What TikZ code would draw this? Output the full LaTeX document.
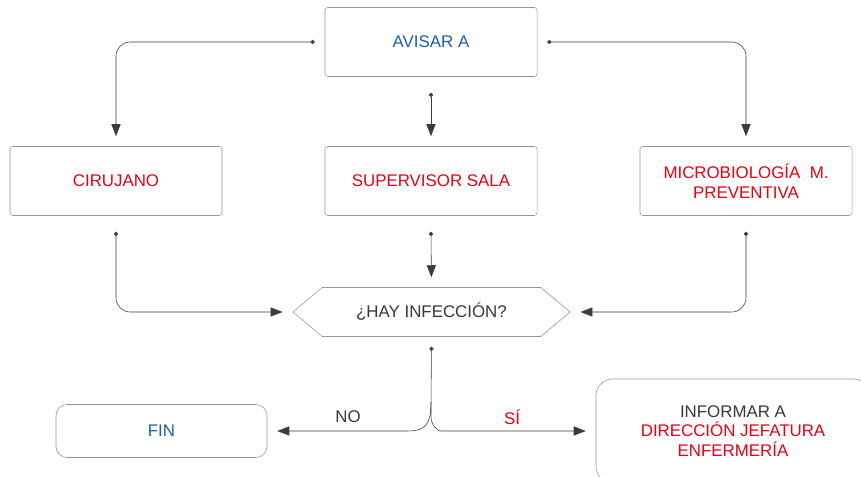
\documentclass[tikz,border=0pt]{standalone}
\usepackage{fontspec}
\setmainfont{Liberation Sans}
\usetikzlibrary{arrows.meta,positioning,shapes.symbols}

\definecolor{boxgray}{RGB}{150,150,150}
\definecolor{linegray}{RGB}{60,60,60}
\definecolor{txtblue}{RGB}{30,96,168}
\definecolor{txtred}{RGB}{232,0,18}
\definecolor{txtgray}{RGB}{55,55,55}

\tikzset{
  box/.style={draw=boxgray, rounded corners=2pt, minimum width=5.3cm, minimum height=1.725cm,
    align=center, text=txtred, font=\fontsize{12}{14}\selectfont},
  endbox/.style={box, rounded corners=8pt},
  hexa/.style={draw=boxgray, signal, signal to=west and east, signal pointer angle=80,
    minimum width=6.925cm, minimum height=1.225cm, text=txtgray, font=\fontsize{12}{14}\selectfont},
  link/.style={draw=linegray, rounded corners=10pt, shorten >=0.25cm,
    {Circle[length=3pt]}-{Triangle[length=8.5pt,width=6.5pt]}},
  label/.style={font=\fontsize{12}{14}\selectfont},
}

\begin{document}
\begin{tikzpicture}[x=0.025cm, y=-0.025cm]
\clip (0,0) rectangle (861,477);

% boxes
\node[box, text=txtblue] (avisar) at (431,42) {AVISAR A};
\node[box] (cirujano) at (116,181) {CIRUJANO};
\node[box] (supervisor) at (431,181) {SUPERVISOR SALA};
\node[box] (micro) at (746,181) {MICROBIOLOG\'IA~~M.\\PREVENTIVA};
\node[hexa] (hay) at (431.5,312) {¿HAY INFECCIÓN?};
\node[endbox, text=txtblue, minimum width=5.275cm, minimum height=1.325cm] (fin) at (161.5,431) {FIN};
\node[endbox, rounded corners=12pt, text=txtgray, minimum width=6.85cm, minimum height=2.6cm]
  (informar) at (733,431) {INFORMAR A\\\textcolor{txtred}{DIRECCIÓN JEFATURA}\\\textcolor{txtred}{ENFERMERÍA}};

\coordinate (fork) at (431,402);

% connectors
\draw[link] ([xshift=-0.25cm]avisar.west) -| (cirujano.north);
\draw[link] ([yshift=-0.4cm]avisar.south) -- (supervisor.north);
\draw[link] ([xshift=0.25cm]avisar.east) -| (micro.north);

\draw[link] ([yshift=-0.4cm]cirujano.south) |- (hay.west);
\draw[link] ([yshift=-0.4cm]supervisor.south) -- (hay.north);
\draw[link] ([yshift=-0.4cm]micro.south) |- (hay.east);

\draw[link] ([yshift=-0.25cm]hay.south) -- (fork) .. controls (431,425) and (437,431) .. (455,431) -- (informar.west);
\draw[draw=linegray, shorten >=0.25cm, -{Triangle[length=8.5pt,width=6.5pt]}]
  (fork) .. controls (431,425) and (425,431) .. (407,431) -- (fin.east);

\node[label, text=txtgray] (no) at (348,417) {NO};
\node[label, text=txtred] (si) at (512,417) {SÍ};

\end{tikzpicture}
\end{document}
